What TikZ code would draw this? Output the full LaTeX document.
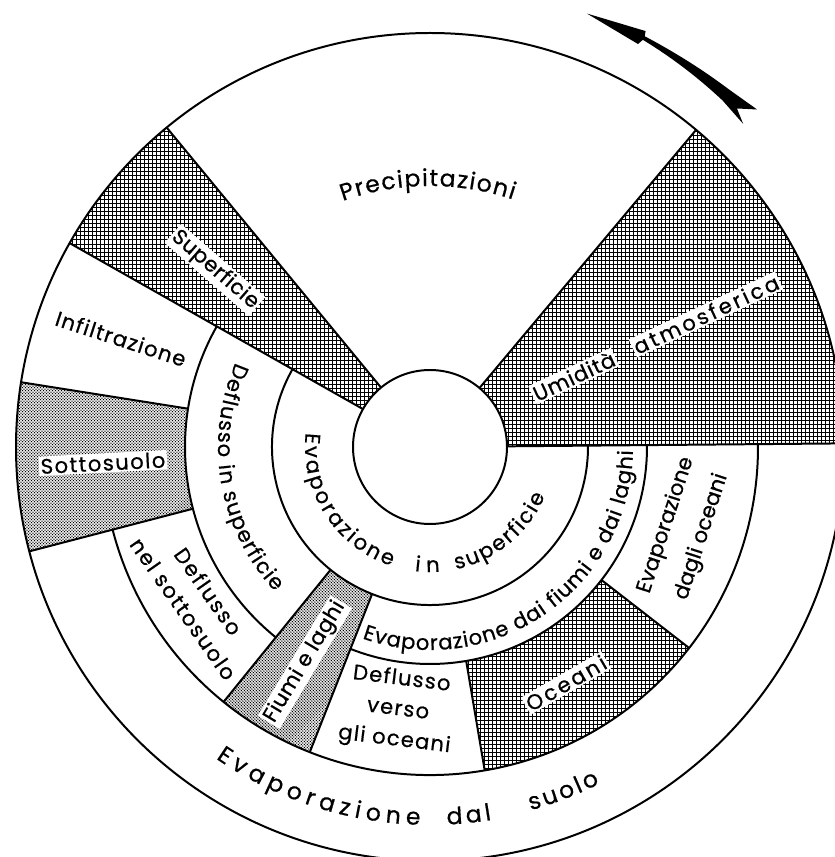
\documentclass[tikz,border=0pt]{standalone}
\usepackage{fontspec}
\setmainfont{Poppins}[FakeBold=0.6]
\usetikzlibrary{patterns,decorations.text}
\newcommand\wheelfont{\fontsize{18}{26}\selectfont}
\newcommand\widefont{\fontsize{20}{26}\selectfont}

\pgfdeclarepatternformonly{densemesh}{\pgfqpoint{-1pt}{-1pt}}{\pgfqpoint{4.42pt}{4.42pt}}{\pgfqpoint{3.42pt}{3.42pt}}{%
  \pgfsetlinewidth{0.8pt}%
  \pgfpathmoveto{\pgfqpoint{0pt}{-0.1pt}}\pgfpathlineto{\pgfqpoint{0pt}{3.52pt}}%
  \pgfpathmoveto{\pgfqpoint{-0.1pt}{0pt}}\pgfpathlineto{\pgfqpoint{3.52pt}{0pt}}%
  \pgfusepath{stroke}}
\pgfdeclarepatternformonly{finedots}{\pgfqpoint{-1pt}{-1pt}}{\pgfqpoint{3.56pt}{3.56pt}}{\pgfqpoint{2.56pt}{2.56pt}}{%
  \pgfpathcircle{\pgfqpoint{0pt}{0pt}}{0.68pt}%
  \pgfpathcircle{\pgfqpoint{1.28pt}{1.28pt}}{0.68pt}%
  \pgfusepath{fill}}

\begin{document}
\begin{tikzpicture}[x=0.3mm,y=0.3mm,
  edge/.style={line width=1.7pt},
  dark/.style={pattern=densemesh},
  light/.style={pattern=finedots},
  lbl/.style={font=\wheelfont},
  knock/.style={lbl,fill=white,inner sep=1.5pt},
  bent/.style 2 args={decorate,decoration={text along path,text align=fit to path,text={|#1|#2}}}]
  \useasboundingbox (-430,-410) rectangle (405,447);
  % shaded sectors
  \path[dark] (0.5:77) -- (0.5:414) arc[start angle=0.5,end angle=50,radius=414] -- (50:77) arc[start angle=50,end angle=0.5,radius=77] -- cycle;
  \path[dark] (129.5:77) -- (129.5:414) arc[start angle=129.5,end angle=150.5,radius=414] -- (150.5:77) arc[start angle=150.5,end angle=129.5,radius=77] -- cycle;
  \path[light] (171:245) -- (171:414) arc[start angle=171,end angle=194.6,radius=414] -- (194.6:245) arc[start angle=194.6,end angle=171,radius=245] -- cycle;
  \path[light] (231:158) -- (231:328) arc[start angle=231,end angle=248.5,radius=328] -- (248.5:158) arc[start angle=248.5,end angle=231,radius=158] -- cycle;
  \path[dark] (279.6:217) -- (279.6:328) arc[start angle=279.6,end angle=322.2,radius=328] -- (322.2:217) arc[start angle=322.2,end angle=279.6,radius=217] -- cycle;
  % rings
  \draw[edge] (0,0) circle[radius=414];
  \draw[edge,fill=white] (0,0) circle[radius=77];
  \draw[edge] (150.5:158) arc[start angle=150.5,end angle=360.5,radius=158];
  \draw[edge] (150.5:245) arc[start angle=150.5,end angle=231,radius=245];
  \draw[edge] (248.5:217) arc[start angle=248.5,end angle=360.5,radius=217];
  \draw[edge] (194.6:328) arc[start angle=194.6,end angle=360.5,radius=328];
  % spokes
  \draw[edge] (0.5:77) -- (0.5:414);
  \draw[edge] (50:77) -- (50:414);
  \draw[edge] (129.5:77) -- (129.5:414);
  \draw[edge] (150.5:77) -- (150.5:414);
  \draw[edge] (171:245) -- (171:414);
  \draw[edge] (194.6:245) -- (194.6:414);
  \draw[edge] (231:158) -- (231:328);
  \draw[edge] (248.5:158) -- (248.5:328);
  \draw[edge] (279.6:217) -- (279.6:328);
  \draw[edge] (322.2:217) -- (322.2:328);
  % arrow
  \fill (70.1:461) -- (62.6:468.5) -- (62.4:463.5) .. controls (58.4:464.5) and (54.4:465.5) .. (50.3:466)
    -- (45.9:470) -- (47.8:457) -- (45.9:450) -- (49.8:453.5)
    .. controls (54:456.5) and (58.2:458.5) .. (62.4:459.5) -- (62.7:453.5) -- cycle;
  % curved labels
  \path[bent={\widefont}{Precipitazioni}] (109.5:261) arc[start angle=109.5,end angle=71.5,radius=261];
  \path[bent={\widefont}{Evaporazione}] (235.5:378) arc[start angle=235.5,end angle=268.5,radius=378];
  \path[bent={\widefont}{dal}] (272.6:378) arc[start angle=272.6,end angle=279.4,radius=378];
  \path[bent={\widefont}{suolo}] (285.5:377) arc[start angle=285.5,end angle=296.8,radius=377];
  \path[bent={\wheelfont}{Evaporazione}] (173.5:125) arc[start angle=173.5,end angle=252,radius=125];
  \path[bent={\wheelfont}{in}] (263:125) arc[start angle=263,end angle=274.5,radius=125];
  \path[bent={\wheelfont}{superficie}] (282:125) arc[start angle=282,end angle=337,radius=125];
  \path[bent={\wheelfont}{Deflusso in superficie}] (156.5:212) arc[start angle=156.5,end angle=223,radius=212];
  \path[bent={\wheelfont}{Evaporazione dai fiumi e dai laghi}] (250.5:203) arc[start angle=250.5,end angle=359,radius=203];
  % straight labels
  \node[knock,rotate=25,font=\wheelfont\addfontfeature{LetterSpace=4}] (umidita) at (143.8,70.9) {Umidità};
  \node[knock,rotate=25,font=\wheelfont\addfontfeature{LetterSpace=14}] (atmosferica) at (276,132.6) {atmosferica};
  \node[knock,rotate=-41,font=\wheelfont\addfontfeature{LetterSpace=2}] (superficie) at (-215,177) {Superficie};
  \node[lbl,rotate=-18,font=\wheelfont\addfontfeature{LetterSpace=6}] (infiltrazione) at (-309,108.5) {Infiltrazione};
  \node[knock,rotate=3,font=\wheelfont\addfontfeature{LetterSpace=7}] (sottosuolo) at (-327,-16) {Sottosuolo};
  \node[lbl,rotate=-55,align=center,font=\wheelfont\addfontfeature{LetterSpace=8}] (deflussonel) at (-234,-153) {Deflusso\\nel sottosuolo};
  \node[knock,rotate=59,font=\wheelfont\addfontfeature{LetterSpace=2}] (fiumi) at (-125,-215) {Fiumi e laghi};
  \node[lbl,rotate=-7,align=center,font=\wheelfont\addfontfeature{LetterSpace=6}] (deflussoverso) at (-32,-263) {Deflusso\\verso\\gli oceani};
  \node[knock,rotate=30,font=\wheelfont\addfontfeature{LetterSpace=13}] (oceani) at (136,-236) {Oceani};
  \node[lbl,rotate=72,align=center] (evapoceani) at (254,-84) {Evaporazione\\[6pt]dagli oceani};
\end{tikzpicture}
\end{document}
